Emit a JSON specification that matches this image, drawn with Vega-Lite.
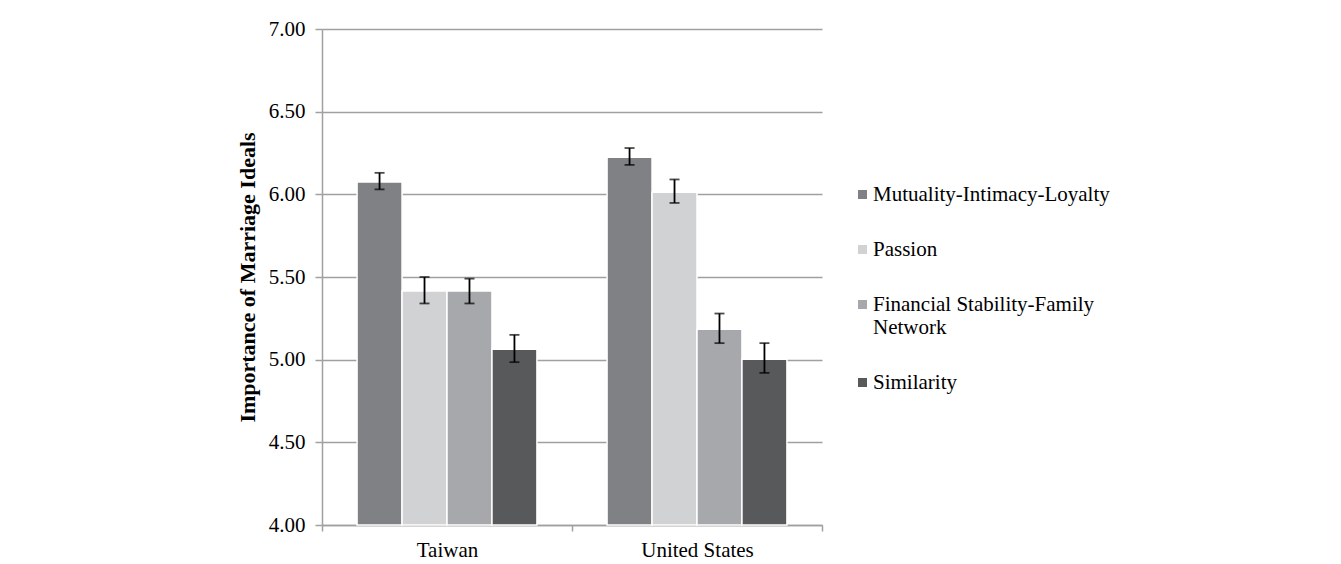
{
  "$schema": "https://vega.github.io/schema/vega-lite/v6.json",
  "autosize": "none",
  "width": 500,
  "height": 496,
  "padding": {"left": 322, "top": 29, "right": 519, "bottom": 39},
  "background": "white",
  "config": {
    "font": "Liberation Serif",
    "view": {"stroke": null}
  },
  "data": {
    "values": [
      {"country": "Taiwan", "ideal": "Mutuality-Intimacy-Loyalty", "mean": 6.075, "lo": 6.03, "hi": 6.13},
      {"country": "Taiwan", "ideal": "Passion", "mean": 5.415, "lo": 5.34, "hi": 5.50},
      {"country": "Taiwan", "ideal": "Financial Stability-Family Network", "mean": 5.415, "lo": 5.34, "hi": 5.49},
      {"country": "Taiwan", "ideal": "Similarity", "mean": 5.063, "lo": 4.985, "hi": 5.15},
      {"country": "United States", "ideal": "Mutuality-Intimacy-Loyalty", "mean": 6.225, "lo": 6.178, "hi": 6.28},
      {"country": "United States", "ideal": "Passion", "mean": 6.013, "lo": 5.948, "hi": 6.09},
      {"country": "United States", "ideal": "Financial Stability-Family Network", "mean": 5.184, "lo": 5.10, "hi": 5.279},
      {"country": "United States", "ideal": "Similarity", "mean": 5.002, "lo": 4.92, "hi": 5.10}
    ]
  },
  "encoding": {
    "x": {
      "field": "country", "type": "nominal",
      "scale": {"paddingInner": 0, "paddingOuter": 0},
      "axis": {
        "title": null, "labelAngle": 0, "labelFont": "Liberation Serif", "labelFontSize": 21, "labelColor": "#000000", "labelPadding": 8,
        "tickBand": "extent", "tickSize": 6, "tickColor": "#a0a0a0", "tickWidth": 1.5,
        "domainColor": "#a0a0a0", "domainWidth": 1.5, "grid": false
      }
    },
    "xOffset": {
      "field": "ideal", "type": "nominal",
      "sort": ["Mutuality-Intimacy-Loyalty", "Passion", "Financial Stability-Family Network", "Similarity"],
      "scale": {"paddingInner": 0, "paddingOuter": 0.78}
    }
  },
  "layer": [
    {
      "mark": {"type": "bar", "stroke": "white", "strokeWidth": 1.5},
      "encoding": {
        "y": {
          "field": "mean", "type": "quantitative",
          "scale": {"domain": [4, 7], "nice": false, "zero": false},
          "axis": {
            "title": "Importance of Marriage Ideals", "titleFont": "Liberation Serif", "titleFontSize": 22, "titleFontWeight": "bold", "titleColor": "#000000", "titlePadding": 9,
            "values": [4, 4.5, 5, 5.5, 6, 6.5, 7], "format": ".2f",
            "labelFont": "Liberation Serif", "labelFontSize": 21, "labelColor": "#000000", "labelPadding": 10,
            "tickSize": 7, "tickColor": "#a0a0a0", "tickWidth": 1.5,
            "domainColor": "#a0a0a0", "domainWidth": 1.5,
            "grid": true, "gridColor": "#a0a0a0", "gridWidth": 1.5
          }
        },
        "y2": {"datum": 4},
        "color": {
          "field": "ideal", "type": "nominal",
          "scale": {
            "domain": ["Mutuality-Intimacy-Loyalty", "Passion", "Financial Stability-Family Network", "Similarity"],
            "range": ["#808184", "#d1d2d4", "#a7a8ab", "#58595b"]
          },
          "legend": {
            "title": null, "orient": "none", "legendX": 530, "legendY": 155, "padding": 0,
            "symbolType": "square", "symbolSize": 81, "symbolStrokeWidth": 0,
            "labelFont": "Liberation Serif", "labelFontSize": 21, "labelColor": "#000000",
            "labelOffset": 0, "labelLimit": 400, "rowPadding": 33,
            "labelExpr": "datum.label == 'Financial Stability-Family Network' ? ['Financial Stability-Family', 'Network'] : datum.label"
          }
        }
      }
    },
    {
      "mark": {"type": "rule", "color": "#000000", "strokeWidth": 1.8},
      "encoding": {
        "y": {"field": "lo", "type": "quantitative"},
        "y2": {"field": "hi"}
      }
    },
    {
      "mark": {"type": "tick", "color": "#000000", "thickness": 1.8, "size": 10, "orient": "horizontal"},
      "encoding": {"y": {"field": "lo", "type": "quantitative"}}
    },
    {
      "mark": {"type": "tick", "color": "#000000", "thickness": 1.8, "size": 10, "orient": "horizontal"},
      "encoding": {"y": {"field": "hi", "type": "quantitative"}}
    }
  ]
}
